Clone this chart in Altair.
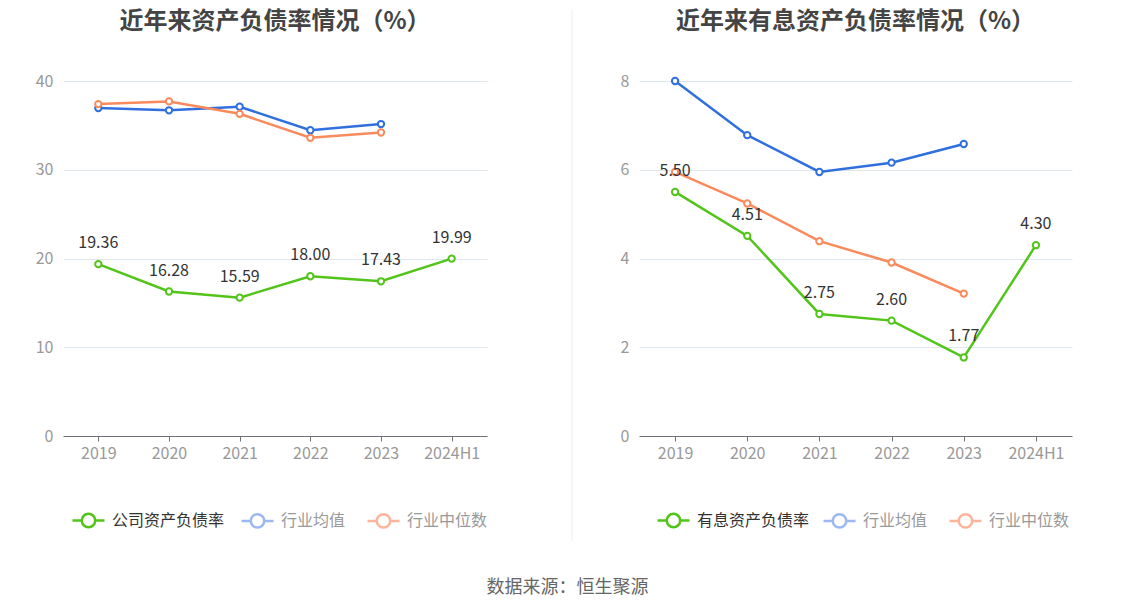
import altair as alt
import pandas as pd

years = ["2019", "2020", "2021", "2022", "2023", "2024H1"]

left_main_name = "公司资产负债率"
left_main = [19.36, 16.28, 15.59, 18.00, 17.43, 19.99]
left_avg = [36.95, 36.70, 37.10, 34.45, 35.15]
left_med = [37.40, 37.70, 36.30, 33.60, 34.20]

right_main_name = "有息资产负债率"
right_main = [5.50, 4.51, 2.75, 2.60, 1.77, 4.30]
right_avg = [8.00, 6.78, 5.95, 6.16, 6.58]
right_med = [5.95, 5.24, 4.39, 3.91, 3.21]

avg_name = "行业均值"
med_name = "行业中位数"

left_title = "近年来资产负债率情况（%）"
right_title = "近年来有息资产负债率情况（%）"
source_text = "数据来源：恒生聚源"

GREEN = "#52c41a"
BLUE = "#2f6fde"
ORANGE = "#f98a5c"
BLUE_L = "#9cb8f2"
ORANGE_L = "#fcb59a"
FONT = "Noto Sans CJK SC"


def long_df(main_name, main, avg, med):
    rows = []
    for i, v in enumerate(main):
        rows.append({"year": years[i], "series": main_name, "value": v, "main": True})
    for i, v in enumerate(avg):
        rows.append({"year": years[i], "series": avg_name, "value": v, "main": False})
    for i, v in enumerate(med):
        rows.append({"year": years[i], "series": med_name, "value": v, "main": False})
    return pd.DataFrame(rows)


SYMBOL = ("M-1,0H-0.42M0.42,0H1M0.42,0A0.42,0.42,0,1,1,-0.42,0"
          "A0.42,0.42,0,1,1,0.42,0Z")


def legend(x, y, label_color):
    return alt.Legend(
        title=None, orient="none", direction="horizontal",
        legendX=x, legendY=y, symbolType=SYMBOL, symbolSize=1024,
        symbolStrokeWidth=2.5, symbolFillColor="white", symbolOpacity=1,
        labelFontSize=16, labelFont=FONT, labelColor=label_color,
        labelOffset=6, columnPadding=16, padding=0,
    )


def panel(df, main_name, title, ymax, yvals, width, lx_main, lx_ind, divider):
    domain = [main_name, avg_name, med_name]
    color = alt.Color("series:N",
                      scale=alt.Scale(domain=domain, range=[GREEN, BLUE, ORANGE]),
                      legend=None)
    x = alt.X("year:N", sort=years,
              scale=alt.Scale(type="point", padding=0.5, domain=years),
              axis=alt.Axis(title=None, labelAngle=0, grid=False,
                            domainColor="#6e7079", tickColor="#6e7079",
                            tickSize=5, labelColor="#999999", labelFontSize=16,
                            labelFont=FONT, labelPadding=4))
    y = alt.Y("value:Q", scale=alt.Scale(domain=[0, ymax], nice=False),
              axis=alt.Axis(title=None, values=yvals, domain=False, ticks=False,
                            gridColor="#e0e6f1", labelColor="#999999",
                            labelFontSize=16, labelFont=FONT, labelPadding=10,
                            minExtent=50, maxExtent=50))
    base = alt.Chart(df).encode(x=x, y=y, color=color, detail="series:N")
    line = base.mark_line(strokeWidth=2.5)
    pts = base.mark_point(filled=False, fill="white", fillOpacity=1, size=40,
                          strokeWidth=2, opacity=1)
    labels = alt.Chart(df).transform_filter("datum.main").mark_text(
        dy=-21, fontSize=16, font=FONT, color="#333333"
    ).encode(x=x, y=y, text=alt.Text("value:Q", format=".2f"))

    leg_main = alt.Chart(df).transform_filter("datum.main").mark_point(
        filled=False, fill="white", strokeOpacity=0, fillOpacity=0
    ).encode(stroke=alt.Stroke("series:N",
                               scale=alt.Scale(domain=[main_name], range=[GREEN]),
                               legend=legend(lx_main, 422, "#333333")))
    leg_ind = alt.Chart(df).transform_filter("!datum.main").mark_point(
        filled=False, fill="white", strokeOpacity=0, fillOpacity=0
    ).encode(stroke=alt.Stroke("series:N",
                               scale=alt.Scale(domain=[avg_name, med_name],
                                               range=[BLUE_L, ORANGE_L]),
                               legend=legend(lx_ind, 422, "#999999")))

    rule = alt.Chart(pd.DataFrame({"a": [0]})).mark_rule(
        color="#eeeeee", strokeWidth=1, opacity=1 if divider else 0
    ).encode(x=alt.value(-67 if divider else 0), y=alt.value(-72),
             y2=alt.value(460))

    return alt.layer(rule, line, pts, labels, leg_main, leg_ind).resolve_scale(
        stroke="independent"
    ).properties(
        width=width, height=355,
        title=alt.TitleParams(title, fontSize=24, fontWeight="bold",
                              color="#444444", font=FONT, offset=-25,
                              anchor="middle", frame="group"),
    )


left = panel(long_df(left_main_name, left_main, left_avg, left_med),
             left_main_name, left_title, 40, [0, 10, 20, 30, 40], 424,
             8, 177, False)
right = panel(long_df(right_main_name, right_main, right_avg, right_med),
              right_main_name, right_title, 8, [0, 2, 4, 6, 8], 433,
              17, 183, True)

chart = alt.hconcat(left, right, spacing=83).resolve_scale(
    color="independent", stroke="independent"
).properties(
    title=alt.TitleParams(source_text, orient="bottom", anchor="middle",
                          fontSize=18, fontWeight="normal", color="#666666",
                          font=FONT, offset=37, dx=25),
    padding={"left": 5, "top": 0, "right": 5, "bottom": 5},
).configure_view(stroke=None)

chart.save("out.html", embed_options={"renderer": "svg", "actions": False})
